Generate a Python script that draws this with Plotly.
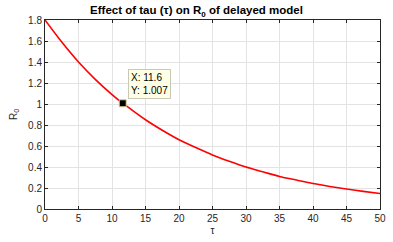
import plotly.graph_objects as go

# data
tau = [0, 2.5, 5, 7.5, 10, 11.6, 12.5, 15, 17.5, 20, 22.5, 25, 27.5, 30, 32.5, 35, 37.5, 40, 42.5, 45, 47.5, 50]
r0 = [1.80, 1.59, 1.40, 1.235, 1.09, 1.007, 0.965, 0.85, 0.75, 0.66, 0.585, 0.515, 0.455, 0.40, 0.355, 0.31, 0.276, 0.243, 0.215, 0.19, 0.168, 0.148]
tip_x = [11.6]
tip_y = [1.007]
x_ticks = [0, 5, 10, 15, 20, 25, 30, 35, 40, 45, 50]
y_ticks = [0, 0.2, 0.4, 0.6, 0.8, 1, 1.2, 1.4, 1.6, 1.8]

FONT = "Liberation Sans, Arial"

fig = go.Figure()
fig.add_trace(go.Scatter(x=tau, y=r0, mode="lines", line=dict(color="#ff0000", width=1.6, shape="spline"),
                         showlegend=False, hoverinfo="skip"))
fig.add_trace(go.Scatter(x=tip_x, y=tip_y, mode="markers",
                         marker=dict(symbol="square", size=7, color="black", line=dict(color="#d8d0a0", width=1)),
                         showlegend=False))
fig.add_annotation(x=tip_x[0], y=tip_y[0], xref="x", yref="y",
                   text=f"X: {tip_x[0]}<br>Y: {tip_y[0]}", showarrow=False, align="left",
                   xanchor="left", yanchor="bottom", xshift=5, yshift=4,
                   bgcolor="#ffffe6", bordercolor="#c8c8b4", borderwidth=1, borderpad=2,
                   font=dict(family=FONT, size=10, color="#000"))

axis_common = dict(showgrid=True, gridcolor="#e3e3e3", gridwidth=1, showline=True, linecolor="#262626",
                   linewidth=1, mirror="ticks", ticks="inside", ticklen=3, tickcolor="#262626",
                   tickfont=dict(family=FONT, size=10, color="#262626"), zeroline=False, automargin=False)

fig.update_layout(
    width=393, height=242,
    margin=dict(l=45, r=13, t=20, b=33),
    paper_bgcolor="white", plot_bgcolor="white",
    title=dict(text="<b>Effect of tau (τ) on R<sub>0</sub> of delayed model</b>", x=0.5, xanchor="center",
               y=0.958, yanchor="middle", font=dict(family=FONT, size=11.5, color="#000")),
    xaxis=dict(range=[0, 50], tickvals=x_ticks, title=dict(text="τ", standoff=3,
               font=dict(family=FONT, size=10, color="#262626")), **axis_common),
    yaxis=dict(range=[0, 1.8], tickvals=y_ticks, title=dict(text="R<sub>0</sub>", standoff=8,
               font=dict(family=FONT, size=10, color="#262626")), **axis_common),
)
fig.write_html("out.html", config={"displayModeBar": False},
               post_script="document.body.style.margin='0';document.body.style.padding='0';document.body.style.overflow='hidden';")
